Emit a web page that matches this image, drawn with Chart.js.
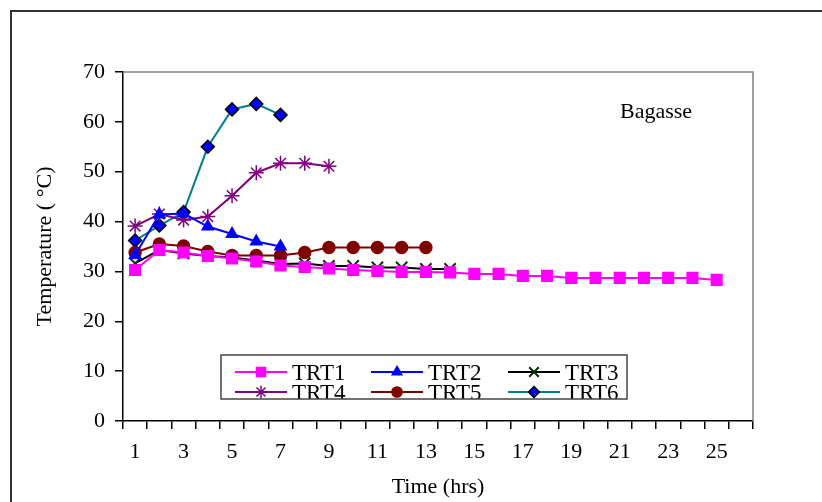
<!DOCTYPE html>
<html>
<head>
<meta charset="utf-8">
<script src="https://cdn.jsdelivr.net/npm/chart.js@4/dist/chart.umd.min.js"></script>
<style>
  html, body { margin: 0; padding: 0; background: #fff; }
  canvas { display: block; }
</style>
</head>
<body>
<canvas id="chart" width="822" height="502"></canvas>
<script>
const hours = ["1", "2", "3", "4", "5", "6", "7", "8", "9", "10", "11", "12", "13",
  "14", "15", "16", "17", "18", "19", "20", "21", "22", "23", "24", "25", "26"];

const trt1 = [30.3, 34.3, 33.8, 33.1, 32.6, 32.0, 31.2, 30.9, 30.6, 30.3, 30.1, 29.9, 29.9,
  29.8, 29.5, 29.5, 29.1, 29.1, 28.7, 28.7, 28.7, 28.7, 28.7, 28.7, 28.3];
const trt2 = [33.3, 41.4, 41.6, 39.0, 37.5, 36.0, 35.0];
const trt3 = [31.6, 34.3, 33.6, 33.1, 32.8, 32.2, 31.5, 31.6, 31.1, 31.1, 30.8, 30.8, 30.5, 30.5];
const trt4 = [39.1, 41.5, 40.3, 41.0, 45.2, 49.8, 51.7, 51.7, 51.1];
const trt5 = [33.8, 35.5, 35.1, 34.0, 33.2, 33.2, 33.2, 33.8, 34.8, 34.8, 34.8, 34.8, 34.8];
const trt6 = [36.2, 39.2, 41.9, 55.0, 62.5, 63.6, 61.4];

const yTicks = [0, 10, 20, 30, 40, 50, 60, 70];

const serif = "'Liberation Serif', 'Times New Roman', serif";
const font22 = { family: serif, size: 22, lineHeight: 1.2 };

function series(label, data, line, style, fill, edge, radius, edgeWidth) {
  return {
    label, data,
    borderColor: line, backgroundColor: line, borderWidth: 2,
    pointStyle: style, pointRadius: radius, pointHoverRadius: radius,
    pointBackgroundColor: fill, pointBorderColor: edge, pointBorderWidth: edgeWidth,
    tension: 0, fill: false,
  };
}

const datasets = [
  series("TRT1", trt1, "#ff00ff", "rect", "#ff00ff", "#ff00ff", 7.5, 1.5),
  series("TRT2", trt2, "#0000ff", "triangle", "#0000ff", "#0000ff", 6.5, 1.5),
  series("TRT3", trt3, "#000000", "crossRot", "#003300", "#003300", 8, 2),
  series("TRT4", trt4, "#800080", "star", "#800080", "#800080", 7.5, 1.5),
  series("TRT5", trt5, "#800000", "circle", "#800000", "#800000", 6, 1.5),
  series("TRT6", trt6, "#008080", "rectRot", "#0000ff", "#000000", 6.5, 1.5),
];

const frame = {
  id: "frame",
  beforeDraw(chart) {
    const { ctx } = chart;
    ctx.save();
    ctx.fillStyle = "#fff";
    ctx.fillRect(0, 0, chart.width, chart.height);
    ctx.strokeStyle = "#333";
    ctx.lineWidth = 2;
    ctx.strokeRect(11, 11, 900, 600);
    ctx.restore();
  },
  beforeDatasetsDraw(chart) {
    const { ctx, chartArea: a } = chart;
    ctx.save();
    ctx.strokeStyle = "#808080";
    ctx.lineWidth = 1.5;
    ctx.beginPath();
    ctx.moveTo(a.left, a.top);
    ctx.lineTo(a.right, a.top);
    ctx.lineTo(a.right, a.bottom);
    ctx.stroke();
    ctx.restore();
  },
  afterDraw(chart) {
    const { ctx } = chart;
    ctx.save();
    ctx.font = "22px " + serif;
    ctx.fillStyle = "#000";
    ctx.textBaseline = "middle";
    ctx.fillText("Bagasse", 620, 112);

    // legend box inside the plot
    const box = { x: 221, y: 355, w: 406, h: 44 };
    ctx.fillStyle = "#fff";
    ctx.fillRect(box.x, box.y, box.w, box.h);
    ctx.beginPath();
    ctx.rect(box.x, box.y, box.w, box.h);
    ctx.clip();
    const cols = [235, 371, 508];
    const rows = [372, 392];
    chart.data.datasets.forEach((ds, i) => {
      const x0 = cols[i % 3];
      const y = rows[Math.floor(i / 3)];
      ctx.strokeStyle = ds.borderColor;
      ctx.lineWidth = 2;
      ctx.beginPath();
      ctx.moveTo(x0, y);
      ctx.lineTo(x0 + 52, y);
      ctx.stroke();
      ctx.fillStyle = ds.pointBackgroundColor;
      ctx.strokeStyle = ds.pointBorderColor;
      ctx.lineWidth = ds.pointBorderWidth;
      Chart.helpers.drawPoint(ctx, {
        pointStyle: ds.pointStyle, radius: ds.pointRadius * 0.85, rotation: 0,
        borderWidth: ds.pointBorderWidth,
      }, x0 + 26, y);
      ctx.fillStyle = "#000";
      ctx.font = "23px " + serif;
      ctx.fillText(ds.label, x0 + 57, y + 2);
    });
    ctx.restore();
    ctx.save();
    ctx.strokeStyle = "#444";
    ctx.lineWidth = 1.5;
    ctx.strokeRect(box.x, box.y, box.w, box.h);
    ctx.restore();
  },
};

new Chart(document.getElementById("chart"), {
  type: "line",
  data: { labels: hours, datasets },
  options: {
    responsive: false,
    animation: false,
    layout: { padding: { left: 0, top: 72, right: 69, bottom: 0 } },
    plugins: {
      legend: { display: false },
      tooltip: { enabled: false },
    },
    scales: {
      x: {
        type: "category",
        offset: true,
        afterFit(scale) { scale.height = 81; },
        grid: {
          offset: true, drawOnChartArea: false, drawTicks: true,
          tickLength: 8, color: "#000", lineWidth: 1.5,
        },
        border: { display: true, color: "#000", width: 1.5 },
        ticks: {
          autoSkip: false, maxRotation: 0, color: "#000", font: font22, padding: 10,
          callback: (v, i) => (i % 2 === 0 ? hours[i] : ""),
        },
        title: {
          display: true, text: "Time (hrs)", color: "#000", font: font22,
          padding: { top: 0, bottom: 2 },
        },
      },
      y: {
        min: 0, max: 70,
        afterFit(scale) { scale.width = 123; },
        afterBuildTicks(scale) { scale.ticks = yTicks.map((v) => ({ value: v })); },
        grid: {
          drawOnChartArea: false, drawTicks: true, tickLength: 8,
          color: "#000", lineWidth: 1.5,
        },
        border: { display: true, color: "#000", width: 1.5 },
        ticks: { color: "#000", font: font22, padding: 10 },
        title: {
          display: true, text: "Temperature ( °C)", color: "#000", font: font22,
          padding: { top: 32, bottom: 0 },
        },
      },
    },
  },
  plugins: [frame],
});
</script>
</body>
</html>
